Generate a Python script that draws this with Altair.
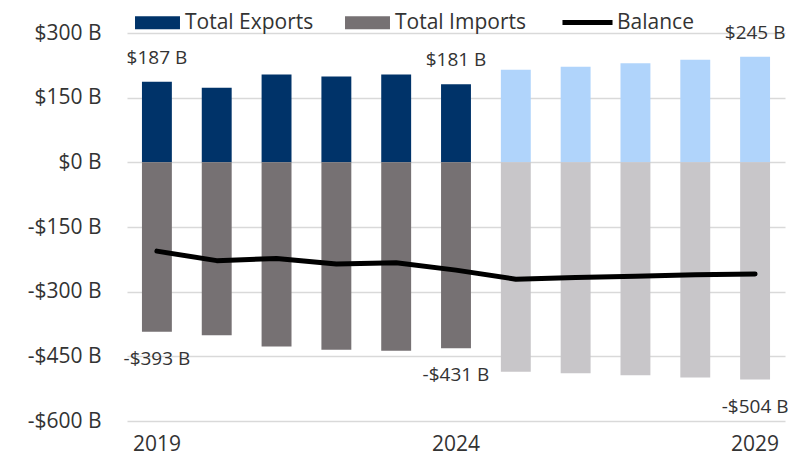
import altair as alt
import pandas as pd

years = [2019, 2020, 2021, 2022, 2023, 2024, 2025, 2026, 2027, 2028, 2029]
exports = [187, 173, 204, 199, 204, 181, 215, 222, 230, 238, 245]
imports = [393, 401, 427, 435, 437, 431, 486, 489, 494, 499, 504]
balance = [-206, -228, -223, -236, -233, -250, -271, -267, -264, -261, -259]
forecast_from = 2025
label_years = [2019, 2024, 2029]

rows = []
for y, e, i in zip(years, exports, imports):
    f = y >= forecast_from
    rows.append({"year": y, "series": "Total Exports", "key": "Total Exports F" if f else "Total Exports",
                 "value": e, "label": f"${e} B", "labeled": y in label_years})
    rows.append({"year": y, "series": "Total Imports", "key": "Total Imports F" if f else "Total Imports",
                 "value": -i, "label": f"-${i} B", "labeled": y in label_years})
bars_df = pd.DataFrame(rows)
line_df = pd.DataFrame({"year": years, "value": balance, "name": ["Balance"] * len(years)})

FONT = "Open Sans"
TXT = "#333333"

x_enc = alt.X("year:O", title=None,
              scale=alt.Scale(paddingInner=0.5, paddingOuter=0.25),
              axis=alt.Axis(values=label_years, labelAngle=0, labelFontSize=21, labelFont=FONT,
                            labelColor=TXT, labelPadding=12, ticks=False, domain=False, grid=False))
y_scale = alt.Scale(domain=[-600, 300], nice=False)

bars = alt.Chart(bars_df).mark_bar().encode(
    x=x_enc,
    y=alt.Y("value:Q", stack=None, scale=y_scale, title=None,
            axis=alt.Axis(values=[-600, -450, -300, -150, 0, 150, 300],
                          labelExpr="(datum.value < 0 ? '-' : '') + '$' + abs(datum.value) + ' B'",
                          labelFontSize=21, labelFont=FONT, labelColor=TXT, labelPadding=26,
                          minExtent=119, ticks=False, domain=False,
                          gridColor="#D9D9D9", gridWidth=1.5)),
    color=alt.Color("key:N",
                    scale=alt.Scale(domain=["Total Exports", "Total Imports", "Total Exports F", "Total Imports F"],
                                    range=["#003369", "#767173", "#B0D4FB", "#C8C6C9"]),
                    legend=alt.Legend(title=None, orient="none", legendX=20, legendY=-21,
                                      direction="horizontal", values=["Total Exports", "Total Imports"],
                                      symbolType="M-3.46,-1L3.46,-1L3.46,1L-3.46,1Z",
                                      symbolSize=169, symbolStrokeWidth=0, symbolOpacity=1,
                                      labelFontSize=21, labelFont=FONT, labelColor=TXT,
                                      labelOffset=17, columnPadding=31, padding=0)),
)

line = alt.Chart(line_df).mark_line(strokeWidth=5, strokeCap="round", strokeJoin="round").encode(
    x=alt.X("year:O"),
    y=alt.Y("value:Q", scale=y_scale),
    stroke=alt.Stroke("name:N", scale=alt.Scale(domain=["Balance"], range=["#000000"]),
                      legend=alt.Legend(title=None, orient="none", legendX=450, legendY=-21,
                                        symbolType="M-3.85,0L3.85,0", symbolSize=169,
                                        symbolStrokeWidth=5,
                                        labelFontSize=21, labelFont=FONT, labelColor=TXT,
                                        labelOffset=19, padding=0)),
)

base_txt = alt.Chart(bars_df).transform_filter("datum.labeled")
exp_lbl = base_txt.transform_filter("datum.value > 0").mark_text(
    fontSize=19, font=FONT, color=TXT, baseline="middle", dy=-24).encode(
    x=alt.X("year:O"), y=alt.Y("value:Q", scale=y_scale), text="label:N")
imp_lbl = base_txt.transform_filter("datum.value < 0").mark_text(
    fontSize=19, font=FONT, color=TXT, baseline="middle", dy=27).encode(
    x=alt.X("year:O"), y=alt.Y("value:Q", scale=y_scale), text="label:N")

chart = alt.layer(bars, line, exp_lbl, imp_lbl).resolve_scale(color="independent").properties(
    width=658, height=388, padding={"top": 4, "left": 0, "right": 0, "bottom": 3}
).configure_view(stroke=None)

chart.save("out.html", embed_options={"renderer": "svg", "actions": False})
